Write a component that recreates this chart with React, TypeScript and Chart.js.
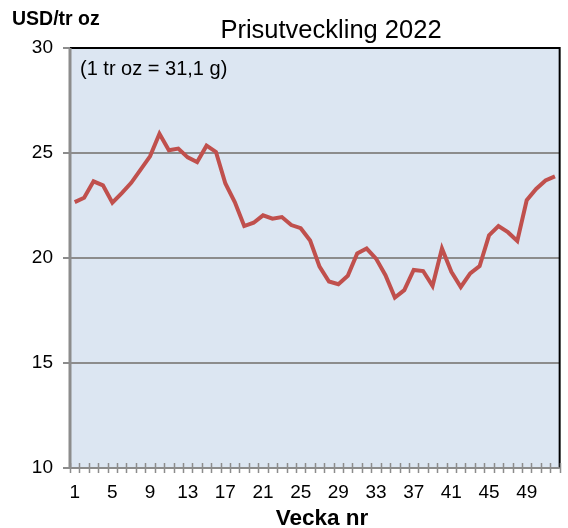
import React, { useEffect, useRef } from "react";
import { Chart, registerables } from "chart.js";

Chart.register(...registerables);

const weeks: string[] = [
  "1", "2", "3", "4", "5", "6", "7", "8", "9", "10", "11", "12", "13",
  "14", "15", "16", "17", "18", "19", "20", "21", "22", "23", "24", "25", "26",
  "27", "28", "29", "30", "31", "32", "33", "34", "35", "36", "37", "38", "39",
  "40", "41", "42", "43", "44", "45", "46", "47", "48", "49", "50", "51", "52",
];

const prices: number[] = [
  22.66, 22.87, 23.65, 23.46, 22.63, 23.09, 23.58, 24.21, 24.84, 25.92, 25.13, 25.21, 24.79,
  24.57, 25.35, 25.05, 23.55, 22.66, 21.52, 21.68, 22.03, 21.87, 21.95, 21.57, 21.42, 20.83,
  19.59, 18.88, 18.75, 19.15, 20.22, 20.45, 19.97, 19.18, 18.12, 18.47, 19.43, 19.38, 18.67,
  20.45, 19.34, 18.62, 19.27, 19.62, 21.08, 21.52, 21.23, 20.81, 22.75, 23.29, 23.69, 23.89,
];

const yTicks = { min: 10, max: 30, step: 5 };
const titleText = "Prisutveckling 2022";
const yAxisTitle = "USD/tr oz";
const xAxisTitle = "Vecka nr";
const noteText = "(1 tr oz = 31,1 g)";

const FONT = "'Liberation Sans', Arial, sans-serif";

const decorPlugin = {
  id: "decor",
  beforeDraw(chart: any) {
    const { ctx, chartArea } = chart;
    const { left, top, right, bottom } = chartArea;
    ctx.save();
    ctx.fillStyle = "#ffffff";
    ctx.fillRect(0, 0, chart.width, chart.height);
    ctx.fillStyle = "#dce6f2";
    ctx.fillRect(left, top, right - left, bottom - top);
    ctx.restore();
  },
  afterDraw(chart: any) {
    const { ctx, chartArea, scales } = chart;
    const { left, top, right, bottom } = chartArea;
    const x = scales.x;
    ctx.save();
    ctx.strokeStyle = "#000000";
    ctx.lineWidth = 2;
    ctx.beginPath();
    ctx.moveTo(left, top);
    ctx.lineTo(right, top);
    ctx.lineTo(right, bottom);
    ctx.stroke();
    ctx.strokeStyle = "#8c8c8c";
    ctx.lineWidth = 2;
    ctx.beginPath();
    ctx.moveTo(left, bottom);
    ctx.lineTo(right, bottom);
    ctx.stroke();
    ctx.lineWidth = 1.5;
    ctx.beginPath();
    for (let i = 0; i <= weeks.length; i++) {
      const px = Math.round(x.getPixelForValue(i - 0.5)) + 0.5;
      ctx.moveTo(px, bottom - 5);
      ctx.lineTo(px, bottom + 5);
    }
    ctx.stroke();
    ctx.lineWidth = 3;
    ctx.beginPath();
    ctx.moveTo(left, top);
    ctx.lineTo(left, bottom + 1);
    ctx.stroke();
    ctx.fillStyle = "#000000";
    ctx.textBaseline = "alphabetic";
    ctx.font = `bold 19.5px ${FONT}`;
    ctx.textAlign = "left";
    ctx.fillText(yAxisTitle, 12, 25);
    ctx.font = `25.5px ${FONT}`;
    ctx.textAlign = "center";
    ctx.fillText(titleText, 331, 38);
    ctx.font = `bold 22.5px ${FONT}`;
    ctx.fillText(xAxisTitle, 322, 525);
    ctx.font = `20px ${FONT}`;
    ctx.textAlign = "left";
    ctx.fillText(noteText, 80, 75);
    ctx.restore();
  },
};

export default function App() {
  const canvasRef = useRef<HTMLCanvasElement | null>(null);

  useEffect(() => {
    if (!canvasRef.current) return;
    const chart = new Chart(canvasRef.current, {
      type: "line",
      data: {
        labels: weeks,
        datasets: [
          {
            data: prices,
            borderColor: "#c0504d",
            borderWidth: 4,
            pointRadius: 0,
            tension: 0,
            fill: false,
          },
        ],
      },
      options: {
        animation: false,
        responsive: false,
        maintainAspectRatio: false,
        layout: { padding: { left: 0, top: 48, right: 5, bottom: 0 } },
        plugins: {
          legend: { display: false },
          title: { display: false },
          tooltip: { enabled: false },
        },
        scales: {
          x: {
            type: "category",
            offset: true,
            afterFit: (s: any) => {
              s.height = 60;
            },
            grid: { display: false, drawTicks: false },
            border: { display: false },
            ticks: {
              autoSkip: false,
              maxRotation: 0,
              minRotation: 0,
              padding: 13,
              color: "#000000",
              font: { family: FONT, size: 19 },
              callback: (_v: any, idx: number) => (idx % 4 === 0 ? weeks[idx] : ""),
            },
          },
          y: {
            min: yTicks.min,
            max: yTicks.max,
            afterFit: (s: any) => {
              s.width = 70;
            },
            grid: {
              color: "#8c8c8c",
              lineWidth: 2,
              drawTicks: true,
              tickLength: 7,
              tickColor: "#8c8c8c",
            },
            border: { display: false },
            ticks: {
              stepSize: yTicks.step,
              padding: 10,
              color: "#000000",
              font: { family: FONT, size: 19 },
            },
          },
        },
      },
      plugins: [decorPlugin],
    });
    return () => chart.destroy();
  }, []);

  return (
    <div style={{ position: "fixed", left: 0, top: 0, width: 568, height: 528 }}>
      <canvas ref={canvasRef} width={568} height={528} style={{ width: 568, height: 528 }} />
    </div>
  );
}
